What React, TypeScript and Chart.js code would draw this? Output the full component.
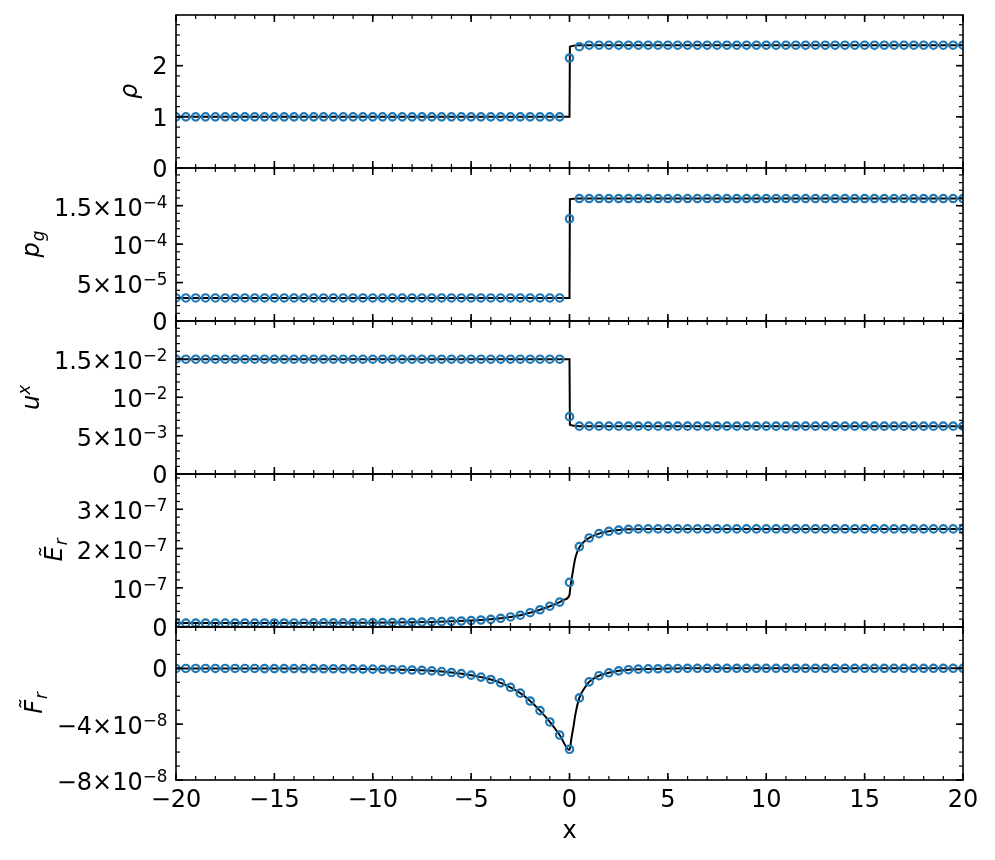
import React, { useEffect, useRef } from 'react';
import { Chart, registerables } from 'chart.js';

Chart.register(...registerables);

// ---------- data ----------
const xMarkers = [
  -20, -19.5, -19, -18.5, -18, -17.5, -17, -16.5, -16, -15.5,
  -15, -14.5, -14, -13.5, -13, -12.5, -12, -11.5, -11, -10.5,
  -10, -9.5, -9, -8.5, -8, -7.5, -7, -6.5, -6, -5.5,
  -5, -4.5, -4, -3.5, -3, -2.5, -2, -1.5, -1, -0.5,
  0,
  0.5, 1, 1.5, 2, 2.5, 3, 3.5, 4, 4.5, 5,
  5.5, 6, 6.5, 7, 7.5, 8, 8.5, 9, 9.5, 10,
  10.5, 11, 11.5, 12, 12.5, 13, 13.5, 14, 14.5, 15,
  15.5, 16, 16.5, 17, 17.5, 18, 18.5, 19, 19.5, 20,
];

const rhoMarkers = [
  1.0, 1.0, 1.0, 1.0, 1.0, 1.0, 1.0, 1.0, 1.0, 1.0,
  1.0, 1.0, 1.0, 1.0, 1.0, 1.0, 1.0, 1.0, 1.0, 1.0,
  1.0, 1.0, 1.0, 1.0, 1.0, 1.0, 1.0, 1.0, 1.0, 1.0,
  1.0, 1.0, 1.0, 1.0, 1.0, 1.0, 1.0, 1.0, 1.0, 1.0,
  2.15,
  2.37, 2.40, 2.40, 2.40, 2.40, 2.40, 2.40, 2.40, 2.40, 2.40,
  2.40, 2.40, 2.40, 2.40, 2.40, 2.40, 2.40, 2.40, 2.40, 2.40,
  2.40, 2.40, 2.40, 2.40, 2.40, 2.40, 2.40, 2.40, 2.40, 2.40,
  2.40, 2.40, 2.40, 2.40, 2.40, 2.40, 2.40, 2.40, 2.40, 2.40,
];

const pgMarkers = [
  3.0e-5, 3.0e-5, 3.0e-5, 3.0e-5, 3.0e-5, 3.0e-5, 3.0e-5, 3.0e-5, 3.0e-5, 3.0e-5,
  3.0e-5, 3.0e-5, 3.0e-5, 3.0e-5, 3.0e-5, 3.0e-5, 3.0e-5, 3.0e-5, 3.0e-5, 3.0e-5,
  3.0e-5, 3.0e-5, 3.0e-5, 3.0e-5, 3.0e-5, 3.0e-5, 3.0e-5, 3.0e-5, 3.0e-5, 3.0e-5,
  3.0e-5, 3.0e-5, 3.0e-5, 3.0e-5, 3.0e-5, 3.0e-5, 3.0e-5, 3.0e-5, 3.0e-5, 3.0e-5,
  1.33e-4,
  1.593e-4, 1.593e-4, 1.593e-4, 1.593e-4, 1.593e-4, 1.593e-4, 1.593e-4, 1.593e-4, 1.593e-4, 1.593e-4,
  1.593e-4, 1.593e-4, 1.593e-4, 1.593e-4, 1.593e-4, 1.593e-4, 1.593e-4, 1.593e-4, 1.593e-4, 1.593e-4,
  1.593e-4, 1.593e-4, 1.593e-4, 1.593e-4, 1.593e-4, 1.593e-4, 1.593e-4, 1.593e-4, 1.593e-4, 1.593e-4,
  1.593e-4, 1.593e-4, 1.593e-4, 1.593e-4, 1.593e-4, 1.593e-4, 1.593e-4, 1.593e-4, 1.593e-4, 1.593e-4,
];

const uMarkers = [
  0.01497, 0.01497, 0.01497, 0.01497, 0.01497, 0.01497, 0.01497, 0.01497, 0.01497, 0.01497,
  0.01497, 0.01497, 0.01497, 0.01497, 0.01497, 0.01497, 0.01497, 0.01497, 0.01497, 0.01497,
  0.01497, 0.01497, 0.01497, 0.01497, 0.01497, 0.01497, 0.01497, 0.01497, 0.01497, 0.01497,
  0.01497, 0.01497, 0.01497, 0.01497, 0.01497, 0.01497, 0.01497, 0.01497, 0.01497, 0.01497,
  0.00748,
  0.00624, 0.00624, 0.00624, 0.00624, 0.00624, 0.00624, 0.00624, 0.00624, 0.00624, 0.00624,
  0.00624, 0.00624, 0.00624, 0.00624, 0.00624, 0.00624, 0.00624, 0.00624, 0.00624, 0.00624,
  0.00624, 0.00624, 0.00624, 0.00624, 0.00624, 0.00624, 0.00624, 0.00624, 0.00624, 0.00624,
  0.00624, 0.00624, 0.00624, 0.00624, 0.00624, 0.00624, 0.00624, 0.00624, 0.00624, 0.00624,
];

const erMarkers = [
  1.00e-8, 1.00e-8, 1.00e-8, 1.00e-8, 1.00e-8, 1.01e-8, 1.01e-8, 1.01e-8, 1.01e-8, 1.02e-8,
  1.02e-8, 1.02e-8, 1.03e-8, 1.03e-8, 1.04e-8, 1.05e-8, 1.06e-8, 1.07e-8, 1.08e-8, 1.09e-8,
  1.11e-8, 1.13e-8, 1.15e-8, 1.18e-8, 1.21e-8, 1.25e-8, 1.30e-8, 1.36e-8, 1.44e-8, 1.53e-8,
  1.64e-8, 1.78e-8, 1.96e-8, 2.22e-8, 2.56e-8, 3.00e-8, 3.65e-8, 4.40e-8, 5.30e-8, 6.35e-8,
  1.14e-7,
  2.05e-7, 2.27e-7, 2.38e-7, 2.44e-7, 2.47e-7, 2.49e-7, 2.50e-7, 2.50e-7, 2.50e-7, 2.50e-7,
  2.50e-7, 2.50e-7, 2.50e-7, 2.50e-7, 2.50e-7, 2.50e-7, 2.50e-7, 2.50e-7, 2.50e-7, 2.50e-7,
  2.50e-7, 2.50e-7, 2.50e-7, 2.50e-7, 2.50e-7, 2.50e-7, 2.50e-7, 2.50e-7, 2.50e-7, 2.50e-7,
  2.50e-7, 2.50e-7, 2.50e-7, 2.50e-7, 2.50e-7, 2.50e-7, 2.50e-7, 2.50e-7, 2.50e-7, 2.50e-7,
];

const frMarkers = [
  -1e-10, -1e-10, -1e-10, -1e-10, -1e-10, -1e-10, -1e-10, -1e-10, -1e-10, -2e-10,
  -2e-10, -2e-10, -2e-10, -2e-10, -2e-10, -3e-10, -3e-10, -4e-10, -4e-10, -5e-10,
  -6e-10, -7e-10, -8e-10, -1.0e-9, -1.2e-9, -1.4e-9, -1.8e-9, -2.3e-9, -3.0e-9, -3.8e-9,
  -4.9e-9, -6.3e-9, -8.0e-9, -1.04e-8, -1.36e-8, -1.78e-8, -2.34e-8, -3.03e-8, -3.84e-8, -4.78e-8,
  -5.80e-8,
  -2.12e-8, -9.7e-9, -5.3e-9, -3.2e-9, -1.8e-9, -1.0e-9, -6e-10, -4e-10, -3e-10, -2e-10,
  -1e-10, 0, 0, 0, 0, 0, 0, 0, 0, 0,
  0, 0, 0, 0, 0, 0, 0, 0, 0, 0,
  0, 0, 0, 0, 0, 0, 0, 0, 0, 0,
];

// reference (fine) solution, vertices of the black curves
const stepLineX = [-20, 0, 0.02, 0.5, 20];
const rhoLineY = [1.0, 1.0, 2.37, 2.40, 2.40];
const pgLineY = [3.0e-5, 3.0e-5, 1.585e-4, 1.593e-4, 1.593e-4];
const uLineY = [0.01497, 0.01497, 0.0064, 0.00624, 0.00624];

const erLineX = [
  -20, -15, -12, -10, -9, -8, -7, -6, -5, -4.5,
  -4, -3.5, -3, -2.5, -2, -1.5, -1, -0.5, -0.25, 0,
  0.04, 0.1, 0.2, 0.3, 0.5, 0.75, 1, 1.5, 2, 2.5,
  3, 4, 20,
];
const erLineY = [
  1.00e-8, 1.02e-8, 1.06e-8, 1.11e-8, 1.15e-8, 1.21e-8, 1.30e-8, 1.44e-8, 1.64e-8, 1.78e-8,
  1.96e-8, 2.22e-8, 2.56e-8, 3.00e-8, 3.65e-8, 4.40e-8, 5.30e-8, 6.35e-8, 7.0e-8, 8.2e-8,
  1.0e-7, 1.2e-7, 1.5e-7, 1.77e-7, 2.03e-7, 2.18e-7, 2.27e-7, 2.38e-7, 2.44e-7, 2.47e-7,
  2.49e-7, 2.50e-7, 2.50e-7,
];

const frLineX = [
  -20, -15, -12, -10, -9, -8, -7, -6, -5, -4.5,
  -4, -3.5, -3, -2.5, -2, -1.5, -1, -0.5, 0, 0.1,
  0.2, 0.3, 0.5, 0.75, 1, 1.5, 2, 2.5, 3, 4,
  5, 6, 20,
];
const frLineY = [
  -1e-10, -2e-10, -3e-10, -6e-10, -8e-10, -1.2e-9, -1.8e-9, -3.0e-9, -4.9e-9, -6.3e-9,
  -8.0e-9, -1.04e-8, -1.36e-8, -1.78e-8, -2.34e-8, -3.03e-8, -3.84e-8, -4.78e-8, -5.85e-8, -5.0e-8,
  -4.2e-8, -3.3e-8, -2.12e-8, -1.45e-8, -9.7e-9, -5.3e-9, -3.2e-9, -1.8e-9, -1.0e-9, -4e-10,
  -2e-10, 0, 0,
];

// ---------- ticks ----------
type Lab = { b: string; sup?: string; sub?: string };

const xTicks = [-20, -15, -10, -5, 0, 5, 10, 15, 20];
const xTickLabels = ['\u221220', '\u221215', '\u221210', '\u22125', '0', '5', '10', '15', '20'];

const rhoTicks = [0, 1, 2];
const rhoTickLabels: Lab[] = [{ b: '0' }, { b: '1' }, { b: '2' }];
const pgTicks = [0, 5e-5, 1e-4, 1.5e-4];
const pgTickLabels: Lab[] = [{ b: '0' }, { b: '5×10', sup: '\u22125' }, { b: '10', sup: '\u22124' }, { b: '1.5×10', sup: '\u22124' }];
const uTicks = [0, 5e-3, 1e-2, 1.5e-2];
const uTickLabels: Lab[] = [{ b: '0' }, { b: '5×10', sup: '\u22123' }, { b: '10', sup: '\u22122' }, { b: '1.5×10', sup: '\u22122' }];
const erTicks = [0, 1e-7, 2e-7, 3e-7];
const erTickLabels: Lab[] = [{ b: '0' }, { b: '10', sup: '\u22127' }, { b: '2×10', sup: '\u22127' }, { b: '3×10', sup: '\u22127' }];
const frTicks = [-8e-8, -4e-8, 0];
const frTickLabels: Lab[] = [{ b: '\u22128×10', sup: '\u22128' }, { b: '\u22124×10', sup: '\u22128' }, { b: '0' }];

const panels = [
  { id: 'yR', min: 0, max: 2.99, ticks: rhoTicks, labels: rhoTickLabels, minor: 0.2, title: { b: 'ρ' } as Lab, lx: stepLineX, ly: rhoLineY, m: rhoMarkers },
  { id: 'yP', min: 0, max: 1.99e-4, ticks: pgTicks, labels: pgTickLabels, minor: 1e-5, title: { b: 'p', sub: 'g' } as Lab, lx: stepLineX, ly: pgLineY, m: pgMarkers },
  { id: 'yU', min: 0, max: 0.01995, ticks: uTicks, labels: uTickLabels, minor: 1e-3, title: { b: 'u', sup: 'x' } as Lab, lx: stepLineX, ly: uLineY, m: uMarkers },
  { id: 'yE', min: 0, max: 3.9e-7, ticks: erTicks, labels: erTickLabels, minor: 2e-8, title: { b: 'E\u0303', sub: 'r' } as Lab, lx: erLineX, ly: erLineY, m: erMarkers },
  { id: 'yF', min: -8e-8, max: 2.96e-8, ticks: frTicks, labels: frTickLabels, minor: 1e-8, title: { b: 'F\u0303', sub: 'r' } as Lab, lx: frLineX, ly: frLineY, m: frMarkers },
];

// ---------- drawing helpers ----------
const FAM = '"DejaVu Sans", sans-serif';
const FS = 24;
const SUB = 0.7;

function labWidth(ctx: CanvasRenderingContext2D, lab: Lab, italic = false) {
  const st = italic ? 'italic ' : '';
  ctx.font = `${st}${FS}px ${FAM}`;
  let w = ctx.measureText(lab.b).width;
  ctx.font = `${st}${FS * SUB}px ${FAM}`;
  if (lab.sup) w += ctx.measureText(lab.sup).width;
  if (lab.sub) w += ctx.measureText(lab.sub).width;
  return w;
}

function drawLab(ctx: CanvasRenderingContext2D, lab: Lab, x: number, base: number, italic = false, supRaise = 8, subDrop = 5) {
  const st = italic ? 'italic ' : '';
  ctx.textAlign = 'left';
  ctx.textBaseline = 'alphabetic';
  ctx.font = `${st}${FS}px ${FAM}`;
  ctx.fillText(lab.b, x, base);
  const w = ctx.measureText(lab.b).width;
  ctx.font = `${st}${FS * SUB}px ${FAM}`;
  if (lab.sup) ctx.fillText(lab.sup, x + w, base - supRaise);
  if (lab.sub) ctx.fillText(lab.sub, x + w + (italic ? 1 : 0), base + subDrop);
}

function stepsIn(min: number, max: number, step: number) {
  const out: number[] = [];
  const k0 = Math.ceil(min / step - 1e-9);
  const k1 = Math.floor(max / step + 1e-9);
  for (let k = k0; k <= k1; k++) out.push(k * step);
  return out;
}

function seg(ctx: CanvasRenderingContext2D, x0: number, y0: number, x1: number, y1: number) {
  ctx.beginPath();
  ctx.moveTo(x0, y0);
  ctx.lineTo(x1, y1);
  ctx.stroke();
}

const MAJ = 7;
const MIN = 4;

const axesPlugin = {
  id: 'mplAxes',
  afterDraw(chart: any) {
    const ctx: CanvasRenderingContext2D = chart.ctx;
    const ca = chart.chartArea;
    const xs = chart.scales.x;
    ctx.save();
    ctx.strokeStyle = '#000';
    ctx.fillStyle = '#000';
    const xMinor = stepsIn(-20, 20, 1);
    const labelRight = ca.left - 8.5;

    panels.forEach((p, pi) => {
      const s = chart.scales[p.id];
      const top = s.top;
      const bot = s.bottom;

      // minor ticks
      ctx.lineWidth = 1.2;
      for (const v of stepsIn(p.min, p.max, p.minor)) {
        const y = s.getPixelForValue(v);
        seg(ctx, ca.left, y, ca.left + MIN, y);
        seg(ctx, ca.right - MIN, y, ca.right, y);
      }
      for (const v of xMinor) {
        const x = xs.getPixelForValue(v);
        seg(ctx, x, top, x, top + MIN);
        seg(ctx, x, bot - MIN, x, bot);
      }
      // major ticks
      ctx.lineWidth = 1.6;
      for (const v of p.ticks) {
        const y = s.getPixelForValue(v);
        seg(ctx, ca.left, y, ca.left + MAJ, y);
        seg(ctx, ca.right - MAJ, y, ca.right, y);
      }
      for (const v of xTicks) {
        const x = xs.getPixelForValue(v);
        seg(ctx, x, top, x, top + MAJ);
        seg(ctx, x, bot - MAJ, x, bot);
      }
      // frame
      ctx.lineWidth = 1.6;
      ctx.strokeRect(ca.left, top, ca.right - ca.left, bot - top);

      // y tick labels
      let maxW = 0;
      p.ticks.forEach((v, i) => {
        const lab = p.labels[i];
        const w = labWidth(ctx, lab);
        maxW = Math.max(maxW, w);
        const y = s.getPixelForValue(v);
        const base = y + (lab.sup ? 10 : 8.75);
        drawLab(ctx, lab, labelRight - w, base);
      });

      // y title (rotated)
      const tx = labelRight - maxW - 15;
      const ty = (top + bot) / 2;
      const tw = labWidth(ctx, p.title, true);
      ctx.save();
      ctx.translate(tx, ty);
      ctx.rotate(-Math.PI / 2);
      drawLab(ctx, p.title, -tw / 2, 0, true, 9, 5);
      ctx.restore();

      // x tick labels on the bottom panel
      if (pi === panels.length - 1) {
        ctx.font = `${FS}px ${FAM}`;
        ctx.textAlign = 'center';
        ctx.textBaseline = 'alphabetic';
        xTicks.forEach((v, i) => {
          ctx.fillText(xTickLabels[i], xs.getPixelForValue(v), bot + 27);
        });
        ctx.fillText('x', (ca.left + ca.right) / 2, bot + 58);
      }
    });
    ctx.restore();
  },
};

export default function App() {
  const ref = useRef<HTMLCanvasElement | null>(null);

  useEffect(() => {
    if (!ref.current) return;
    const datasets: any[] = [];
    panels.forEach((p) => {
      datasets.push({
        label: p.id + ' markers',
        data: xMarkers.map((x, i) => ({ x, y: p.m[i] })),
        yAxisID: p.id,
        xAxisID: 'x',
        showLine: false,
        pointRadius: 3.7,
        pointBorderWidth: 2.2,
        pointBorderColor: '#1f77b4',
        pointBackgroundColor: 'rgba(0,0,0,0)',
        pointStyle: 'circle',
        order: 0,
        clip: 0,
      });
      datasets.push({
        label: p.id + ' line',
        data: p.lx.map((x, i) => ({ x, y: p.ly[i] })),
        yAxisID: p.id,
        xAxisID: 'x',
        borderColor: '#000',
        borderWidth: 2,
        pointRadius: 0,
        cubicInterpolationMode: 'monotone',
        fill: false,
        order: 1,
        clip: 0,
      });
    });

    const yScale = (p: any) => ({
      type: 'linear',
      axis: 'y',
      position: 'left',
      stack: 'panels',
      stackWeight: 1,
      offset: false,
      min: p.min,
      max: p.max,
      grid: { display: false },
      border: { display: false },
      ticks: { display: false },
      afterFit: (sc: any) => { sc.width = 168; },
    });

    const scales: any = {
      x: {
        type: 'linear',
        position: 'bottom',
        min: -20,
        max: 20,
        grid: { display: false },
        border: { display: false },
        ticks: { display: false },
        afterFit: (sc: any) => { sc.height = 72; },
      },
    };
    // defined bottom-to-top
    for (let i = panels.length - 1; i >= 0; i--) scales[panels[i].id] = yScale(panels[i]);

    const chart = new Chart(ref.current, {
      type: 'line',
      data: { datasets },
      options: {
        responsive: false,
        animation: false,
        events: [],
        layout: { padding: { left: 0, right: 24, top: 7, bottom: 0 } },
        plugins: { legend: { display: false }, tooltip: { enabled: false } },
        scales,
      },
      plugins: [axesPlugin],
    } as any);
    return () => chart.destroy();
  }, []);

  return <canvas ref={ref} width={979} height={844} style={{ display: 'block' }} />;
}
